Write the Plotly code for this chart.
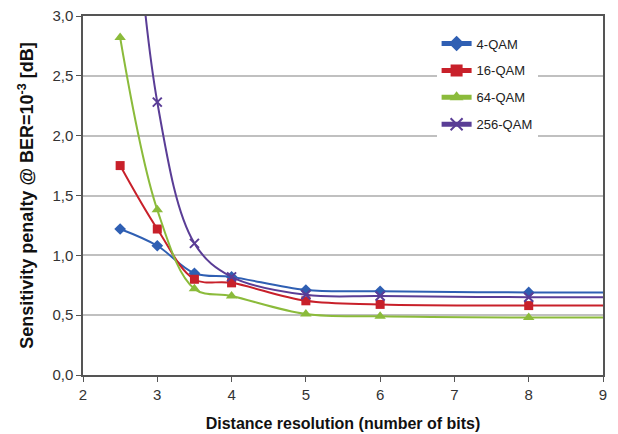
import plotly.graph_objects as go

bits = [2.5, 3, 3.5, 4, 5, 6, 8, 10]
qam4 = [1.22, 1.08, 0.85, 0.82, 0.71, 0.70, 0.69, 0.69]
qam16 = [1.75, 1.22, 0.80, 0.77, 0.62, 0.59, 0.58, 0.58]
qam64 = [2.82, 1.38, 0.72, 0.66, 0.51, 0.49, 0.48, 0.48]
qam256 = [5.6, 2.28, 1.10, 0.82, 0.67, 0.66, 0.65, 0.65]
names = ["4-QAM", "16-QAM", "64-QAM", "256-QAM"]
x_ticks = [2, 3, 4, 5, 6, 7, 8, 9]
y_ticks = [0, 0.5, 1.0, 1.5, 2.0, 2.5, 3.0]

colors = ["#2f5fb3", "#c8202a", "#8bbb3b", "#5a3d96"]
symbols = ["diamond", "square", "triangle-up", "x-thin-open"]
sizes = [9, 9, 10, 9]

fig = go.Figure()
for name, ys, c, s, sz in zip(names, [qam4, qam16, qam64, qam256], colors, symbols, sizes):
    fig.add_trace(go.Scatter(
        x=bits, y=ys, name=name, mode="lines+markers", legendgroup=name,
        line=dict(color=c, width=2, shape="spline", smoothing=1.0),
        marker=dict(symbol=s, size=sz, color=c, line=dict(color=c, width=2 if s == "x-thin-open" else 0)),
        cliponaxis=True,
    ))

axis_common = dict(
    showline=True, linecolor="#555555", linewidth=1.5, mirror=True,
    ticks="outside", ticklen=5, tickcolor="#555555", automargin=False,
    tickfont=dict(family="Liberation Sans, Arial", size=15, color="#333333"),
    zeroline=False,
)
fig.update_xaxes(range=[2, 9], tickvals=x_ticks, showgrid=False,
                 title=dict(text="<b>Distance resolution (number of bits)</b>",
                            font=dict(family="Liberation Sans, Arial", size=16, color="#111111"), standoff=16),
                 **axis_common)
fig.update_yaxes(range=[0, 3], tickvals=y_ticks, tickformat=".1f", showgrid=True, gridcolor="#c0c0c0", gridwidth=1.5,
                 title=dict(text="<b>Sensitivity penalty @ BER=10<sup>-3</sup> [dB]</b>",
                            font=dict(family="Liberation Sans, Arial", size=18, color="#111111"), standoff=14),
                 **axis_common)

fig.update_layout(
    width=618, height=434,
    margin=dict(l=83, r=15, t=16, b=59),
    plot_bgcolor="white", paper_bgcolor="white",
    separators=", ",
    legend=dict(x=0.68, y=0.965, xanchor="left", yanchor="top", bgcolor="white",
                font=dict(family="Liberation Sans, Arial", size=13, color="#222222"),
                tracegroupgap=7, itemsizing="constant", itemwidth=30),
    showlegend=True,
)
fig.write_html("out.html", config={"displayModeBar": False},
               post_script="document.body.style.margin='0';document.body.style.padding='0';")
